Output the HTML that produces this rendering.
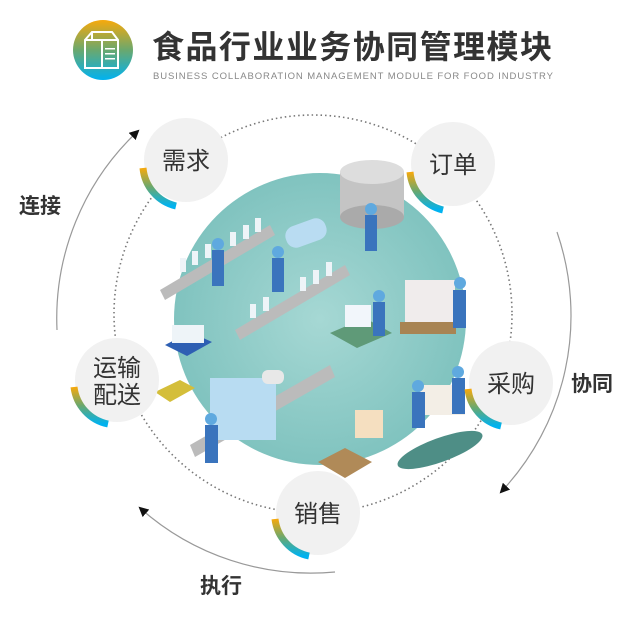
<!DOCTYPE html>
<html><head><meta charset="utf-8"><style>
html,body{margin:0;padding:0;background:#fff;}
body{width:640px;height:626px;position:relative;overflow:hidden;font-family:"Liberation Sans","Noto Sans CJK SC",sans-serif;}
svg{position:absolute;left:0;top:0;}
</style></head><body>
<svg width="640" height="626" viewBox="0 0 640 626">
<defs>
<linearGradient id="g" x1="0" y1="0" x2="0" y2="1">
<stop offset="0" stop-color="#f7a90c"/><stop offset="0.5" stop-color="#6aa86e"/><stop offset="1" stop-color="#00b2f0"/>
</linearGradient>
<radialGradient id="t" cx="0.5" cy="0.5" r="0.5">
<stop offset="0" stop-color="#a6d8d4"/><stop offset="1" stop-color="#80c3bf"/>
</radialGradient>
<marker id="ah" markerWidth="10" markerHeight="10" refX="8" refY="5" orient="auto" markerUnits="userSpaceOnUse">
<path d="M0,0 L10,5 L0,10 Z" fill="#111"/></marker>
</defs>
<circle cx="103" cy="50" r="30" fill="url(#g)"/>
<path d="M85,40 L92,32 L112,32 L118,40 L118,68 L85,68 Z M92,32 L92,40 L85,40 M92,40 L118,40 M102,40 L102,68" fill="none" stroke="#fff" stroke-width="2"/>
<rect x="105" y="48" width="10" height="1.5" fill="#fff"/><rect x="105" y="53" width="10" height="1.5" fill="#fff"/><rect x="105" y="58" width="10" height="1.5" fill="#fff"/>
<text x="152" y="58" font-size="32" font-weight="bold" fill="#333" textLength="400">食品行业业务协同管理模块</text>
<text x="153" y="79" font-size="9.5" fill="#888" textLength="400" lengthAdjust="spacing">BUSINESS COLLABORATION MANAGEMENT MODULE FOR FOOD INDUSTRY</text>
<circle cx="313" cy="314" r="199" fill="none" stroke="#777" stroke-width="1.6" stroke-dasharray="1.5 3"/>
<circle cx="320" cy="319" r="146" fill="url(#t)"/>
<g>
<rect x="340" y="172" width="64" height="45" fill="#c4c4c4"/><ellipse cx="372" cy="217" rx="32" ry="12" fill="#aaa"/><ellipse cx="372" cy="172" rx="32" ry="12" fill="#ddd"/>
<rect x="285" y="222" width="42" height="22" rx="10" fill="#b9dcf2" transform="rotate(-20 306 233)"/>
<path d="M160,290 L270,225 L275,235 L165,300 Z" fill="#bbb"/>
<path d="M235,330 L345,265 L350,275 L240,340 Z" fill="#bbb"/>
<path d="M190,445 L330,365 L335,377 L195,457 Z" fill="#bbb"/>
<g fill="#eef4f8"><rect x="180" y="258" width="6" height="14"/><rect x="192" y="251" width="6" height="14"/><rect x="205" y="244" width="6" height="14"/><rect x="230" y="232" width="6" height="14"/><rect x="243" y="225" width="6" height="14"/><rect x="255" y="218" width="6" height="14"/>
<rect x="250" y="304" width="6" height="14"/><rect x="263" y="297" width="6" height="14"/><rect x="300" y="277" width="6" height="14"/><rect x="313" y="270" width="6" height="14"/><rect x="326" y="262" width="6" height="14"/></g>
<rect x="210" y="378" width="66" height="62" fill="#b8dcf2"/><rect x="262" y="370" width="22" height="14" rx="6" fill="#e8e8e8"/>
<polygon points="330,333 365,318 392,333 357,348" fill="#5f9a78"/>
<rect x="345" y="305" width="26" height="22" fill="#f2f6fb"/>
<rect x="405" y="280" width="50" height="45" fill="#f0ecec"/><rect x="400" y="322" width="56" height="12" fill="#a88453"/>
<rect x="355" y="410" width="28" height="28" fill="#f5dfc0"/>
<polygon points="318,462 345,448 372,462 345,478" fill="#b08a58"/>
<polygon points="165,345 190,332 212,342 187,356" fill="#2e5fb3"/><rect x="172" y="325" width="32" height="18" fill="#eef4f8"/>
<polygon points="155,392 180,380 195,388 170,402" fill="#d4be3a"/>
<ellipse cx="440" cy="450" rx="45" ry="12" fill="#4e8e86" transform="rotate(-20 440 450)"/>
<rect x="420" y="385" width="45" height="30" fill="#f3eee6"/>
<g fill="#3a74bd"><rect x="212" y="250" width="12" height="36"/><rect x="272" y="258" width="12" height="34"/><rect x="365" y="215" width="12" height="36"/><rect x="373" y="302" width="12" height="34"/><rect x="453" y="290" width="13" height="38"/><rect x="412" y="392" width="13" height="36"/><rect x="452" y="378" width="13" height="36"/><rect x="205" y="425" width="13" height="38"/></g>
<g fill="#5fa9df"><circle cx="218" cy="244" r="6"/><circle cx="278" cy="252" r="6"/><circle cx="371" cy="209" r="6"/><circle cx="379" cy="296" r="6"/><circle cx="460" cy="283" r="6"/><circle cx="418" cy="386" r="6"/><circle cx="458" cy="372" r="6"/><circle cx="211" cy="419" r="6"/></g>
</g>
<path d="M57,330 A257,257 0 0 1 138,131" fill="none" stroke="#999" stroke-width="1.2" marker-end="url(#ah)"/>
<path d="M557,232 A257,257 0 0 1 501,492" fill="none" stroke="#999" stroke-width="1.2" marker-end="url(#ah)"/>
<path d="M335,572 A257,257 0 0 1 140,508" fill="none" stroke="#999" stroke-width="1.2" marker-end="url(#ah)"/>
<g font-size="21" font-weight="bold" fill="#333">
<text x="19" y="213">连接</text><text x="571" y="391">协同</text><text x="200" y="593">执行</text></g>
<g font-size="24" fill="#333" text-anchor="middle">
<circle cx="186" cy="160" r="42" fill="#f1f1f1"/><path d="M143,168 A43,43 0 0 0 176,206" fill="none" stroke="url(#g)" stroke-width="7"/><text x="186" y="169">需求</text>
<circle cx="453" cy="164" r="42" fill="#f1f1f1"/><path d="M410,172 A43,43 0 0 0 443,210" fill="none" stroke="url(#g)" stroke-width="7"/><text x="453" y="173">订单</text>
<circle cx="511" cy="383" r="42" fill="#f1f1f1"/><path d="M468,389 A43,43 0 0 0 501,426" fill="none" stroke="url(#g)" stroke-width="7"/><text x="511" y="392">采购</text>
<circle cx="318" cy="513" r="42" fill="#f1f1f1"/><path d="M275,519 A43,43 0 0 0 309,556" fill="none" stroke="url(#g)" stroke-width="7"/><text x="318" y="522">销售</text>
<circle cx="117" cy="380" r="42" fill="#f1f1f1"/><path d="M74,387 A43,43 0 0 0 108,424" fill="none" stroke="url(#g)" stroke-width="7"/><text x="117" y="376">运输</text><text x="117" y="403">配送</text>
</g>
</svg>
</body></html>
